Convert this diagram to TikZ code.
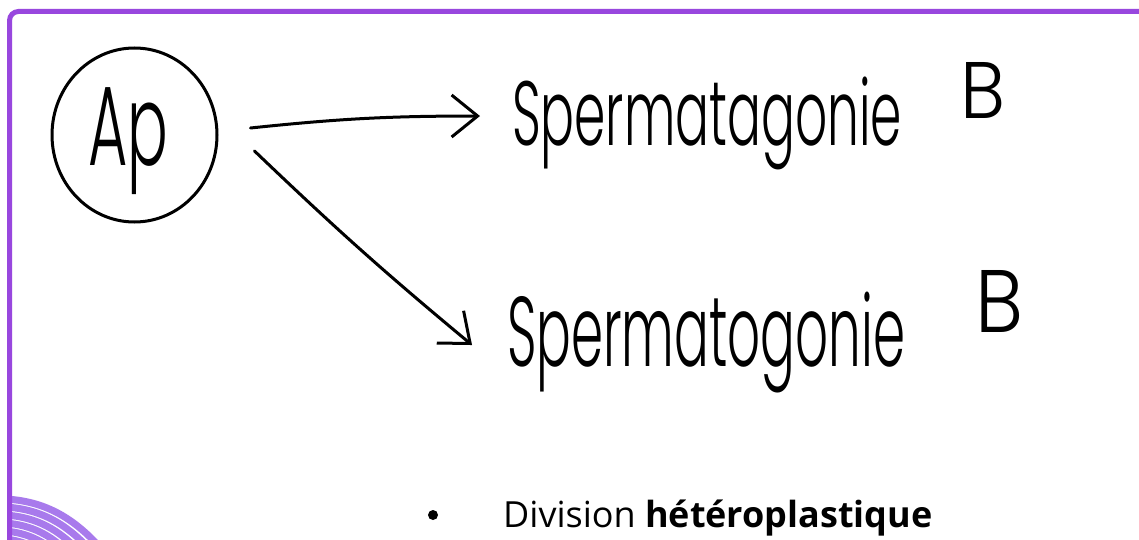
\documentclass[tikz,border=0pt]{standalone}
\usepackage{fontspec}
\setmainfont{Open Sans}
\newfontfamily\hand{Poppins}[UprightFont=* Light]
\usetikzlibrary{arrows.meta,shapes.geometric,calc}
\definecolor{frame}{RGB}{152,71,222}
\definecolor{swirl}{RGB}{168,122,236}
\tikzset{
  ink/.style={line width=3pt, line cap=round, line join=round, black},
  arr/.style={ink, -{Straight Barb[length=26pt, width=42pt, line width=3pt]}},
  hw/.style={inner sep=0pt, outer sep=0pt, anchor=north west},
  strand/.style={swirl, line width=7pt}
}
\begin{document}
\begin{tikzpicture}[x=1pt,y=-1pt]
\useasboundingbox (0,0) rectangle (1139,540);
\fill[white] (0,0) rectangle (1139,540);
% swirl decoration
\begin{scope}
  \clip (10,0) rectangle (1139,540);
  \foreach \k in {0,1,2,3,4,5}{
    \draw[strand] (5,{499+8*\k}) .. controls ({45-4*\k},{501+8*\k}) and ({75-8*\k},{518+6*\k}) .. ({104-12*\k},552);
  }
\end{scope}
% frame
\draw[frame, line width=5pt, rounded corners=9pt] (9.5,545) -- (9.5,11.5) -- (1145,11.5);
% Ap circle
\node[ink, draw, ellipse, minimum width=165pt, minimum height=174pt, inner sep=0pt] (ap) at (134.5,135) {};
\node[hw] (aptext) at (88,88) {\resizebox*{80pt}{107pt}{\hand Ap}};
% targets
\node[hw] (sb1) at (512,77) {\resizebox*{390pt}{93pt}{\hand Spermatagonie}};
\node[hw] (b1) at (960,62) {\resizebox*{45pt}{56pt}{\hand B}};
\node[hw] (sb2) at (507,292) {\resizebox*{398pt}{101pt}{\hand Spermatogonie}};
\node[hw] (b2) at (975,270) {\resizebox*{48pt}{62pt}{\hand B}};
% arrows
\draw[arr] ($(ap.east)+(32,-7)$) to[bend left=3] ($(sb1.west)+(-32,-7.5)$);
\draw[arr] ($(ap.east)+(36,16)$) to[bend right=2] ($(sb2.west)+(-35,2.5)$);
% bullet text
\fill (433,515) circle[radius=5pt];
\node[inner sep=0pt, anchor=base west] (div) at (503,527) {\fontsize{36}{43}\selectfont Division \textbf{hétéroplastique}};
\end{tikzpicture}
\end{document}
